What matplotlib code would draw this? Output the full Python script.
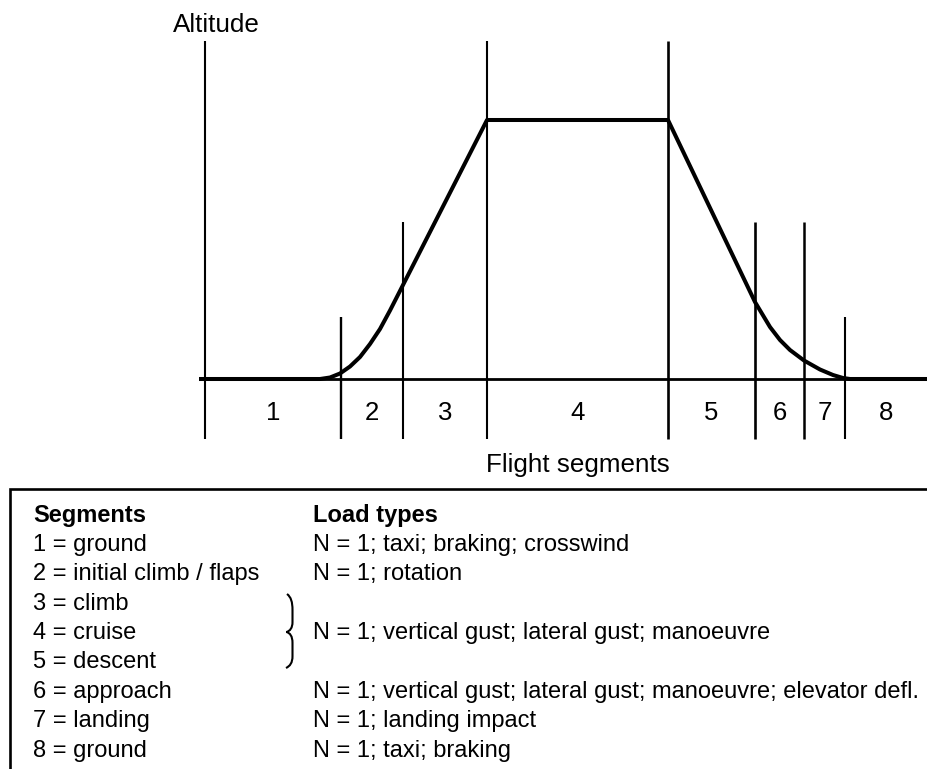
import matplotlib
matplotlib.use("Agg")
import matplotlib.pyplot as plt
from matplotlib.path import Path
from matplotlib.patches import PathPatch

plt.rcParams['font.family'] = ['Liberation Sans', 'DejaVu Sans']

# flight profile (time units along x, altitude units up)
profile_t = [-6, 115, 125, 135, 145, 155, 165, 175, 185, 198, 282,
             463, 550, 565, 575, 585, 599, 615, 628, 638, 645, 723]
profile_alt = [0, 0, 1.5, 5.5, 12.5, 22, 35, 50, 68.5, 94, 259,
               259, 77, 52, 39, 29, 18.5, 9.5, 4, 1, 0, 0]

# segment boundaries and the height of each marker line
boundaries = [0, 136, 198, 282, 463, 550, 599, 640]
boundary_tops = [338, 62, 157, 338, 338, 157, 157, 62]
boundary_lw = [1.5, 1.7, 1.5, 1.5, 1.9, 1.9, 1.8, 1.5]
t_end = 723
segment_labels = ['1', '2', '3', '4', '5', '6', '7', '8']

segments = ["1 = ground", "2 = initial climb / flaps", "3 = climb",
            "4 = cruise", "5 = descent", "6 = approach", "7 = landing",
            "8 = ground"]
load_types = ["N = 1; taxi; braking; crosswind", "N = 1; rotation", "",
              "N = 1; vertical gust; lateral gust; manoeuvre", "",
              "N = 1; vertical gust; lateral gust; manoeuvre; elevator defl.",
              "N = 1; landing impact", "N = 1; taxi; braking"]

fig = plt.figure(figsize=(9.28, 7.69), dpi=100)

ax = fig.add_axes([0, 0, 1, 1])
ax.set_xlim(-205, 723)
ax.set_ylim(-390, 379)
ax.axis('off')

# axis line
ax.plot([-6, t_end], [0, 0], color='black', lw=2.0, solid_capstyle='butt')
for x, top, lw in zip(boundaries, boundary_tops, boundary_lw):
    ax.plot([x, x], [-60, top], color='black', lw=lw, solid_capstyle='butt')
ax.plot(profile_t, profile_alt, color='black', lw=2.9,
        solid_joinstyle='round', solid_capstyle='butt')

edges = boundaries + [t_end]
for i, lab in enumerate(segment_labels):
    mid = (edges[i] + edges[i + 1]) / 2
    ax.text(mid, -34, lab, ha='center', va='center', fontsize=18.5)

# layout overlay in pixel coords
lay = fig.add_axes([0, 0, 1, 1])
lay.set_xlim(0, 928)
lay.set_ylim(769, 0)
lay.axis('off')

lay.text(216, 32, 'Altitude', ha='center', va='baseline', fontsize=18.7)
lay.text(578, 472, 'Flight segments', ha='center', va='baseline', fontsize=18.7)

# legend box (open on right and bottom)
lay.plot([10, 10, 928], [769, 489, 489], color='black', lw=1.9,
         solid_joinstyle='miter')

row_h = 29.35
y0 = 521.7
lay.text(33, y0, 'Segments', fontsize=17, fontweight='bold', va='baseline')
lay.text(313, y0, 'Load types', fontsize=17, fontweight='bold', va='baseline')
for i, (s, l) in enumerate(zip(segments, load_types)):
    y = y0 + row_h * (i + 1)
    lay.text(33, y, s, fontsize=17, va='baseline')
    if l:
        lay.text(313, y, l, fontsize=17, va='baseline')

# curly brace for segments 3-5
verts = [(287, 594), (291, 597), (292.5, 602), (292.5, 610),
         (292.5, 622),
         (292.5, 628), (290, 631), (286.5, 632),
         (290, 633), (292.5, 636), (292.5, 643),
         (292.5, 656),
         (292.5, 663), (290, 666), (286, 668)]
codes = [Path.MOVETO, Path.CURVE4, Path.CURVE4, Path.CURVE4,
         Path.LINETO,
         Path.CURVE4, Path.CURVE4, Path.CURVE4,
         Path.CURVE4, Path.CURVE4, Path.CURVE4,
         Path.LINETO,
         Path.CURVE4, Path.CURVE4, Path.CURVE4]
lay.add_patch(PathPatch(Path(verts, codes), fill=False, lw=1.5, color='black'))

fig.savefig('out.png', dpi=100)
